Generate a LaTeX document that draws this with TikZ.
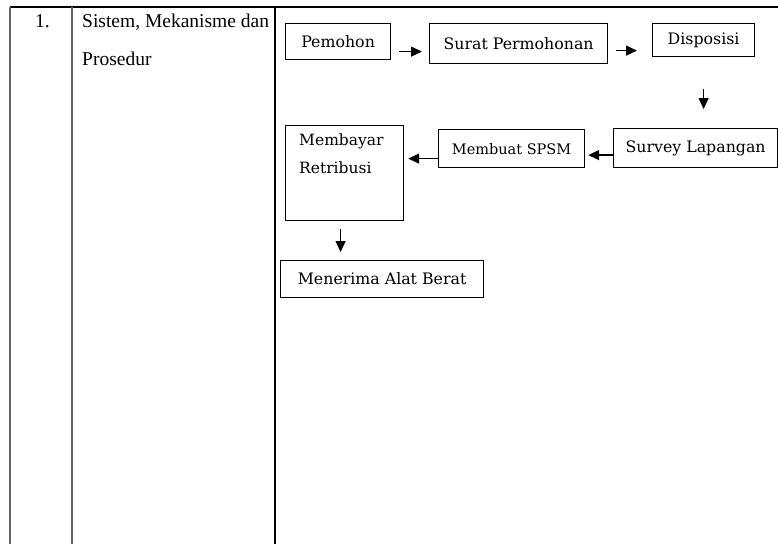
\documentclass[tikz,border=0pt]{standalone}
\usepackage{fontspec}
\setmainfont{Liberation Serif}
\newfontfamily\boxfont{DejaVu Serif}
\usetikzlibrary{arrows.meta}

\tikzset{
  stepbox/.style={draw, line width=1.2pt, inner sep=0pt, anchor=north west,
    font=\boxfont\fontsize{15.8}{19}\selectfont},
  flow/.style={line width=1.3pt, -{Triangle[length=11pt,width=10pt]}},
  tableline/.style={line width=1.3pt}
}

\begin{document}
\begin{tikzpicture}[x=1pt, y=-1pt]
  \useasboundingbox (0,0) rectangle (778,544);

  % Table lines
  \draw [tableline] (10,7) -- (778,7);
  \draw [tableline, black!60] (10,7) -- (10,544);
  \draw [tableline, black!60] (72,7) -- (72,544);
  \draw [tableline] (275,7) -- (275,544);

  % Left columns
  \node [anchor=base west, inner sep=0pt, font=\fontsize{19.5}{38}\selectfont] (nomor) at (35,27) {1.};
  \node [anchor=base west, inner sep=0pt, align=left, font=\fontsize{19.5}{38}\selectfont] (judul) at (82,65)
    {Sistem, Mekanisme dan\\Prosedur};

  % Flow boxes
  \node [stepbox, minimum width=105, minimum height=36] (pemohon) at (285,23) {Pemohon};
  \node [stepbox, minimum width=178, minimum height=40] (surat) at (429,23) {Surat Permohonan};
  \node [stepbox, minimum width=102, minimum height=33] (dispo) at (652,23) {Disposisi};
  \node [stepbox, minimum width=164, minimum height=39] (survey) at (613,128) {Survey Lapangan};
  \node [stepbox, minimum width=146, minimum height=38,
    font=\boxfont\fontsize{14.5}{18}\selectfont] (spsm) at (438,129) {Membuat SPSM};
  \node [stepbox, minimum width=118, minimum height=95,
    label={[anchor=north west, inner sep=0pt, align=left, xshift=14pt, yshift=-9pt,
      font=\boxfont\fontsize{15.5}{28}\selectfont]north west:Membayar\\Retribusi}] (bayar) at (285,125) {};
  \node [stepbox, minimum width=203, minimum height=37] (terima) at (280,260) {Menerima Alat Berat};

  % Arrows
  \draw [flow, shorten <=8pt, shorten >=7pt] ([yshift=-10pt]pemohon.east) -- ([yshift=-10pt]pemohon.east -| surat.west);
  \draw [flow, shorten <=8pt, shorten >=15pt] ([yshift=-7pt]surat.east) -- ([yshift=-7pt]surat.east -| dispo.west);
  \draw [flow, shorten <=32pt, shorten >=19pt] (dispo.south) -- (dispo.south |- survey.north);
  \draw [flow, shorten >=3pt] ([yshift=-7pt]survey.west) -- ([yshift=-7pt]survey.west -| spsm.east);
  \draw [flow, shorten >=4pt] ([yshift=-10pt]spsm.west) -- ([yshift=-10pt]spsm.west -| bayar.east);
  \draw [flow, shorten <=8pt, shorten >=8pt] ([xshift=-4pt]bayar.south) -- ([xshift=-4pt]bayar.south |- terima.north);
\end{tikzpicture}
\end{document}
